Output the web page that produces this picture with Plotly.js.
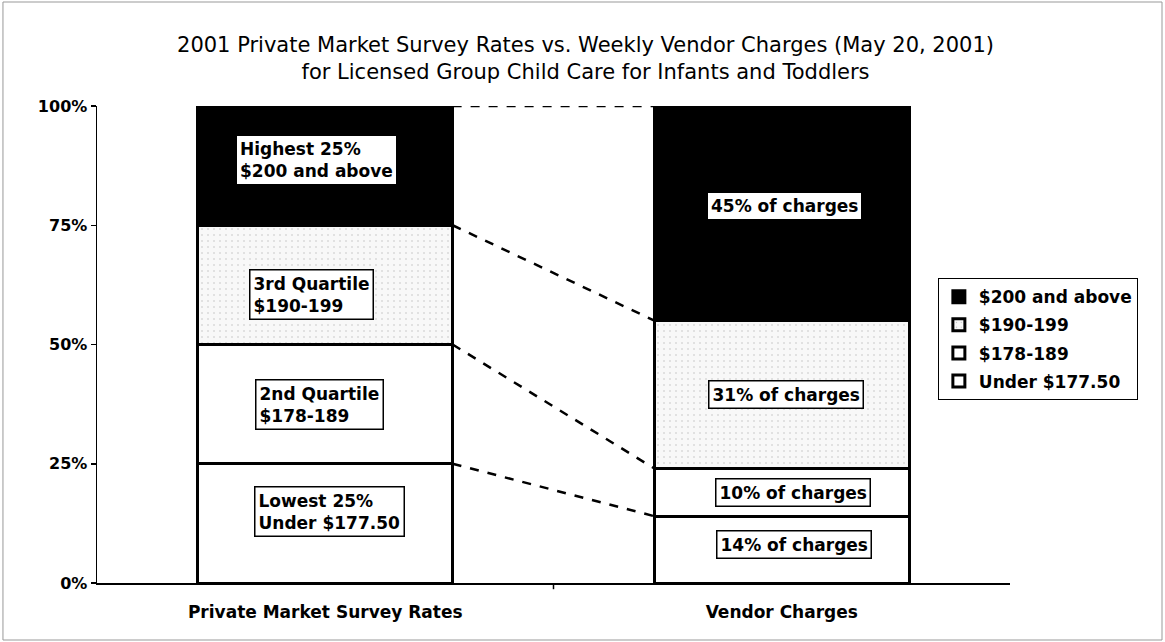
<!DOCTYPE html>
<html>
<head>
<meta charset="utf-8">
<script src="https://cdn.plot.ly/plotly-3.0.1.min.js"></script>
<style>html,body{margin:0;padding:0;background:#fff;}#chart{width:1165px;height:642px;}</style>
</head>
<body>
<div id="chart"></div>
<script>
// ---- data ----
const categories = ['Private Market Survey Rates', 'Vendor Charges'];
const seriesNames = ['Under $177.50', '$178-189', '$190-199', '$200 and above'];
const underValues = [25, 14];
const s178Values = [25, 10];
const s190Values = [25, 31];
const s200Values = [25, 45];
const privateLabels = ['Lowest 25%<br>Under $177.50', '2nd Quartile<br>$178-189', '3rd Quartile<br>$190-199', 'Highest 25%<br>$200 and above'];
const vendorLabels = ['14% of charges', '10% of charges', '31% of charges', '45% of charges'];
const yTickVals = [0, 25, 50, 75, 100];
const yTickText = ['0%', '25%', '50%', '75%', '100%'];

// ---- build ----
const seriesValues = [underValues, s178Values, s190Values, s200Values];
const xPos = categories.map((c, i) => i);
const barWidth = 0.558;
const FONT = 'DejaVu Sans, Arial, sans-serif';

const fills = [
  {color: '#ffffff'},
  {color: '#ffffff'},
  {color: '#f5f5f5', pattern: {shape: '.', fgcolor: '#c4c4c4', bgcolor: '#f8f8f8', size: 6, solidity: 0.06}},
  {color: '#000000'}
];

const traces = seriesValues.map((vals, k) => ({
  type: 'bar',
  name: seriesNames[k],
  legendgroup: 'g' + k,
  legendrank: (seriesValues.length - k) * 10,
  x: xPos,
  y: vals,
  width: barWidth,
  marker: Object.assign({line: {color: '#000', width: 3}}, fills[k]),
  hoverinfo: 'skip'
}));

const cum = categories.map((c, i) => {
  let s = 0; return seriesValues.map(v => (s += v[i]));
});
const mids = categories.map((c, i) => {
  let s = 0; return seriesValues.map(v => { const m = s + v[i] / 2; s += v[i]; return m; });
});

for (let k = 0; k < seriesValues.length; k++) {
  traces.push({
    type: 'scatter', mode: 'lines', showlegend: false, hoverinfo: 'skip',
    legendgroup: 'g' + k,
    legendrank: (seriesValues.length - k) * 10 + 1,
    x: [xPos[0] + barWidth / 2, xPos[1] - barWidth / 2],
    y: [cum[0][k], cum[1][k]],
    line: {color: '#000', width: 2.5, dash: 'dash'}
  });
}

const annFont = {family: FONT, size: 17, color: '#000', weight: 'bold'};
const annotations = [];
const leftXShift = [-71, -70, -76, -88];
const leftYShift = [12, 0, -10, 6];
privateLabels.forEach((t, k) => {
  annotations.push({
    xref: 'x', yref: 'y', x: xPos[0], y: mids[0][k], xanchor: 'left',
    xshift: leftXShift[k], yshift: leftYShift[k],
    text: t, align: 'left', showarrow: false, font: annFont,
    bgcolor: '#fff', bordercolor: '#000', borderwidth: k === 3 ? 0 : 1.5, borderpad: 3
  });
});
const rightXShift = [12, 11, 4, 3];
const rightYShift = [5, 0, 0, 7];
vendorLabels.forEach((t, k) => {
  annotations.push({
    xref: 'x', yref: 'y', x: xPos[1], y: mids[1][k], xanchor: 'center',
    xshift: rightXShift[k], yshift: rightYShift[k],
    text: t, showarrow: false, font: annFont,
    bgcolor: '#fff', bordercolor: '#000', borderwidth: k === 3 ? 0 : 1.5, borderpad: 3
  });
});

const layout = {
  width: 1165, height: 642,
  paper_bgcolor: '#fff', plot_bgcolor: '#fff',
  margin: {l: 97, r: 155, t: 106, b: 59},
  barmode: 'stack',
  font: {family: FONT, size: 17, color: '#000'},
  title: {
    text: '2001 Private Market Survey Rates vs. Weekly Vendor Charges (May 20, 2001)<br>for Licensed Group Child Care for Infants and Toddlers',
    x: 0.5026, xanchor: 'center', xref: 'container',
    y: 0.919, yanchor: 'middle', yref: 'container',
    font: {family: FONT, size: 21, color: '#000'}
  },
  xaxis: {
    range: [-0.5, 1.5],
    tickvals: xPos, ticktext: categories, ticks: '',
    ticklabelstandoff: 13,
    showline: true, linecolor: '#000', linewidth: 1.5,
    showgrid: false, zeroline: false, fixedrange: true,
    tickfont: {family: FONT, size: 17, weight: 'bold'}
  },
  yaxis: {
    range: [0, 100],
    tickvals: yTickVals, ticktext: yTickText,
    ticks: 'outside', ticklen: 5, tickcolor: '#000', tickwidth: 1.5,
    showline: true, linecolor: '#000', linewidth: 1.5,
    showgrid: false, zeroline: false, fixedrange: true,
    tickfont: {family: FONT, size: 16, weight: 'bold'}
  },
  legend: {
    x: 0.921, xanchor: 'left', y: 0.639, yanchor: 'top',
    traceorder: 'grouped', tracegroupgap: 3,
    bordercolor: '#000', borderwidth: 1, bgcolor: '#fff',
    font: {family: FONT, size: 17, weight: 'bold'}, itemwidth: 30
  },
  shapes: [
    {type: 'line', xref: 'x', yref: 'paper', x0: 0.5, x1: 0.5, y0: 0, y1: -0.013, line: {color: '#000', width: 1.5}},
    {type: 'rect', xref: 'paper', yref: 'paper', x0: -0.103, x1: 1.1665, y0: -0.1195, y1: 1.218, line: {color: '#999', width: 1}}
  ],
  annotations: annotations
};

Plotly.newPlot('chart', traces, layout, {displayModeBar: false, staticPlot: true});
</script>
</body>
</html>
